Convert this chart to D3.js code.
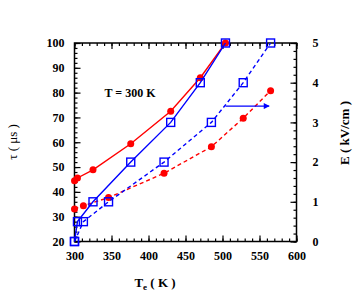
<!DOCTYPE html>
<html>
<head>
<meta charset="utf-8">
<script src="https://cdn.jsdelivr.net/npm/d3@7"></script>
<style>
  body { margin: 0; background: #fff; }
  svg text { font-family: "Liberation Serif", "Times New Roman", serif; }
</style>
</head>
<body>
<div id="chart"></div>
<script>
// temperatures (K) for the two sets of runs
var teSolid = [300, 304, 325, 376, 430, 470, 504];
var teDashed = [300, 312, 346, 421, 485, 528, 565];
// field strength (kV/cm), shared by both sets
var field = [0, 0.5, 1, 2, 3, 4, 5];
// relaxation time (us)
var tauSolid = [44.5, 45.6, 48.9, 59.4, 72.5, 86.0, 100];
var tauDashed = [33.1, 34.4, 37.7, 47.5, 58.2, 69.7, 80.8];

var xTicks = [300, 350, 400, 450, 500, 550, 600];
var yTicks = [20, 30, 40, 50, 60, 70, 80, 90, 100];
var eTicks = [0, 1, 2, 3, 4, 5];

var margin = {top: 43, right: 57.5, bottom: 55.5, left: 74.5};
var width = 354 - margin.left - margin.right;
var height = 297 - margin.top - margin.bottom;
var red = "#ff0000", blue = "#0000ff";

var svg = d3.select("#chart").append("svg")
  .attr("width", 354)
  .attr("height", 297);

var plot = svg.append("g")
  .attr("transform", "translate(" + margin.left + "," + margin.top + ")");

var x = d3.scaleLinear().domain([300, 600]).range([0, width]);
var y = d3.scaleLinear().domain([20, 100]).range([height, 0]);
var yE = d3.scaleLinear().domain([0, 5]).range([height, 0]);

// minor ticks first, inward
function minor(axis, scale, vals) {
  return axis(scale).tickValues(vals).tickSize(-3).tickFormat("");
}
var xMinor = d3.range(300, 601, 10);
var yMinor = d3.range(20, 101, 2);
var eMinor = d3.range(0, 5.01, 0.2);

plot.append("g").attr("transform", "translate(0," + height + ")")
  .call(minor(d3.axisBottom, x, xMinor));
plot.append("g").call(minor(d3.axisTop, x, xMinor));
plot.append("g").call(minor(d3.axisLeft, y, yMinor));
plot.append("g").attr("transform", "translate(" + width + ",0)")
  .call(minor(d3.axisRight, yE, eMinor));

// major ticks + labels
var xAxis = plot.append("g").attr("transform", "translate(0," + height + ")")
  .call(d3.axisBottom(x).tickValues(xTicks).tickSize(-6).tickPadding(10));
plot.append("g").call(d3.axisTop(x).tickValues(xTicks).tickSize(-6).tickFormat(""));
var yAxis = plot.append("g")
  .call(d3.axisLeft(y).tickValues(yTicks).tickSize(-6).tickPadding(10));
var eAxis = plot.append("g").attr("transform", "translate(" + width + ",0)")
  .call(d3.axisRight(yE).tickValues(eTicks).tickFormat(d3.format("d"))
    .tickSize(-6).tickPadding(16));

plot.selectAll(".domain").remove();
plot.selectAll(".tick line").attr("stroke", "#000").attr("stroke-width", 1.2);
plot.selectAll(".tick text")
  .attr("font-size", 12).attr("font-weight", "bold").attr("fill", "#000")
  .attr("font-family", "Liberation Serif, serif");

plot.append("rect")
  .attr("width", width).attr("height", height)
  .attr("fill", "none").attr("stroke", "#000").attr("stroke-width", 1.5);

function drawSeries(xs, ys, scale, colour, dashed, shape) {
  var pts = xs.map(function(d, i) { return [x(d), scale(ys[i])]; });
  plot.append("path")
    .attr("d", d3.line()(pts))
    .attr("fill", "none")
    .attr("stroke", colour)
    .attr("stroke-width", 1.4)
    .attr("stroke-dasharray", dashed ? "4,3" : null);
  if (shape == "circle") {
    plot.selectAll(null).data(pts).enter().append("circle")
      .attr("cx", d => d[0]).attr("cy", d => d[1])
      .attr("r", 3.5).attr("fill", colour);
  } else {
    plot.selectAll(null).data(pts).enter().append("rect")
      .attr("x", d => d[0] - 4).attr("y", d => d[1] - 4)
      .attr("width", 8).attr("height", 8)
      .attr("fill", "none").attr("stroke", colour).attr("stroke-width", 1.4);
  }
}

drawSeries(teSolid, tauSolid, y, red, false, "circle");
drawSeries(teDashed, tauDashed, y, red, true, "circle");
drawSeries(teSolid, field, yE, blue, false, "square");
drawSeries(teDashed, field, yE, blue, true, "square");

// arrow pointing to the right axis for the blue curves
svg.append("defs").append("marker")
  .attr("id", "head").attr("viewBox", "0 0 10 10")
  .attr("refX", 9).attr("refY", 5)
  .attr("markerWidth", 8).attr("markerHeight", 6)
  .attr("markerUnits", "userSpaceOnUse")
  .attr("orient", "auto")
  .append("path").attr("d", "M0,0 L10,5 L0,10 z").attr("fill", blue);
plot.append("line")
  .attr("x1", x(504)).attr("x2", x(563))
  .attr("y1", yE(3.41)).attr("y2", yE(3.41))
  .attr("stroke", blue).attr("stroke-width", 1.2)
  .attr("marker-end", "url(#head)");

plot.append("text")
  .attr("x", x(375)).attr("y", y(80) + 4)
  .attr("text-anchor", "middle")
  .attr("font-size", 12).attr("font-weight", "bold")
  .text("T = 300 K");

// axis titles
var xt = svg.append("text")
  .attr("x", 155).attr("y", 287)
  .attr("text-anchor", "middle")
  .attr("font-size", 13).attr("font-weight", "bold");
xt.append("tspan").text("T");
xt.append("tspan").attr("font-size", 9).attr("dy", 3).text("e");
xt.append("tspan").attr("dy", -3).text(" ( K )");

svg.append("text")
  .attr("transform", "translate(17,142) rotate(-90)")
  .attr("text-anchor", "middle")
  .attr("font-size", 13)
  .text("\u03c4 ( \u03bcs )");

svg.append("text")
  .attr("transform", "translate(349,133) rotate(-90)")
  .attr("text-anchor", "middle")
  .attr("font-size", 13).attr("font-weight", "bold")
  .text("E ( kV/cm )");
</script>
</body>
</html>
